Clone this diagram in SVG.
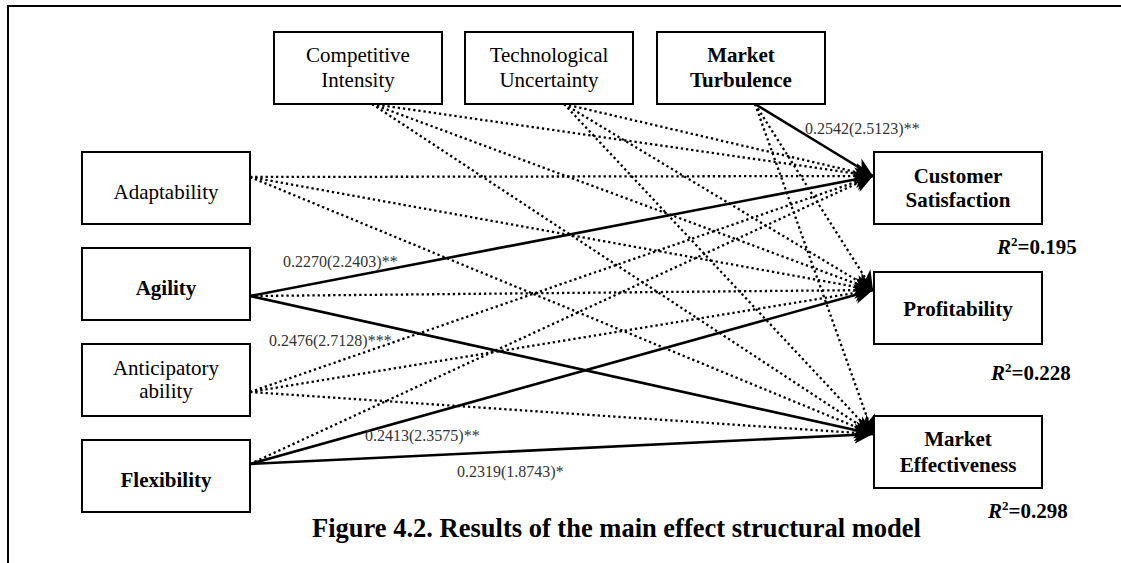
<svg xmlns="http://www.w3.org/2000/svg" width="1121" height="563" viewBox="0 0 1121 563">
<style>
  text { font-family: "Liberation Serif", "Times New Roman", serif; fill: #000; }
  .box { fill: #fff; stroke: #000; stroke-width: 2; }
  .nt { font-size: 21px; text-anchor: middle; }
  .b { font-weight: bold; }
  .lbl { font-size: 16px; fill: #333; }
  .r2 { font-size: 21px; font-weight: bold; }
  .solid { stroke: #000; stroke-width: 2.6; fill: none; marker-end: url(#ah); }
  .dot { stroke: #000; stroke-width: 2.3; fill: none; stroke-dasharray: 2.3 2.9; marker-end: url(#ah); }
  .frame { stroke: #000; stroke-width: 2; fill: none; }
</style>
<defs>
  <marker id="ah" markerUnits="userSpaceOnUse" markerWidth="20" markerHeight="20" refX="17" refY="9" orient="auto" viewBox="0 0 18 18">
    <path d="M0,1 L17,9 L0,17 L5,9 Z" fill="#000"/>
  </marker>
</defs>
<rect width="1121" height="563" fill="#fff"/>
<path class="frame" d="M8,563 L8,6 L1121,6"/>

<g id="connectors">
  <!-- dotted -->
  <line class="dot" x1="250" y1="177" x2="873" y2="176"/>
  <line class="dot" x1="250" y1="177" x2="873" y2="290"/>
  <line class="dot" x1="250" y1="177" x2="873" y2="434"/>
  <line class="dot" x1="250" y1="296" x2="873" y2="290"/>
  <line class="dot" x1="250" y1="392" x2="873" y2="176"/>
  <line class="dot" x1="250" y1="392" x2="873" y2="290"/>
  <line class="dot" x1="250" y1="392" x2="873" y2="434"/>
  <line class="dot" x1="250" y1="464" x2="873" y2="176"/>
  <line class="dot" x1="372" y1="104" x2="873" y2="176"/>
  <line class="dot" x1="372" y1="104" x2="873" y2="290"/>
  <line class="dot" x1="372" y1="104" x2="873" y2="434"/>
  <line class="dot" x1="564" y1="104" x2="873" y2="176"/>
  <line class="dot" x1="564" y1="104" x2="873" y2="290"/>
  <line class="dot" x1="564" y1="104" x2="873" y2="434"/>
  <line class="dot" x1="755" y1="104" x2="873" y2="290"/>
  <line class="dot" x1="755" y1="104" x2="873" y2="434"/>
  <!-- solid -->
  <line class="solid" x1="755" y1="104" x2="873" y2="176"/>
  <line class="solid" x1="250" y1="296" x2="873" y2="176"/>
  <line class="solid" x1="250" y1="296" x2="873" y2="434"/>
  <line class="solid" x1="250" y1="464" x2="873" y2="290"/>
  <line class="solid" x1="250" y1="464" x2="873" y2="434"/>
  <!-- labels -->
  <text class="lbl" x="805" y="134">0.2542(2.5123)**</text>
  <text class="lbl" x="283" y="267">0.2270(2.2403)**</text>
  <text class="lbl" x="269" y="346">0.2476(2.7128)***</text>
  <text class="lbl" x="365" y="441">0.2413(2.3575)**</text>
  <text class="lbl" x="457" y="477">0.2319(1.8743)*</text>
</g>

<g id="competitive-intensity">
  <rect class="box" x="274" y="32" width="168" height="72"/>
  <text class="nt" x="358" y="62">Competitive</text>
  <text class="nt" x="358" y="87">Intensity</text>
</g>
<g id="technological-uncertainty">
  <rect class="box" x="465" y="32" width="168" height="72"/>
  <text class="nt" x="549" y="62">Technological</text>
  <text class="nt" x="549" y="87">Uncertainty</text>
</g>
<g id="market-turbulence">
  <rect class="box" x="657" y="32" width="168" height="72"/>
  <text class="nt b" x="741" y="62">Market</text>
  <text class="nt b" x="741" y="87">Turbulence</text>
</g>

<g id="adaptability">
  <rect class="box" x="82" y="152" width="168" height="72"/>
  <text class="nt" x="166" y="199">Adaptability</text>
</g>
<g id="agility">
  <rect class="box" x="82" y="248" width="168" height="72"/>
  <text class="nt b" x="166" y="295">Agility</text>
</g>
<g id="anticipatory-ability">
  <rect class="box" x="82" y="344" width="168" height="72"/>
  <text class="nt" x="166" y="375">Anticipatory</text>
  <text class="nt" x="166" y="398">ability</text>
</g>
<g id="flexibility">
  <rect class="box" x="82" y="440" width="168" height="72"/>
  <text class="nt b" x="166" y="487">Flexibility</text>
</g>

<g id="customer-satisfaction">
  <rect class="box" x="874" y="152" width="168" height="72"/>
  <text class="nt b" x="958" y="183">Customer</text>
  <text class="nt b" x="958" y="207">Satisfaction</text>
  <text class="r2" x="997" y="254"><tspan font-style="italic">R</tspan><tspan font-size="13" dy="-8">2</tspan><tspan dy="8">=0.195</tspan></text>
</g>
<g id="profitability">
  <rect class="box" x="874" y="272" width="168" height="72"/>
  <text class="nt b" x="958" y="316">Profitability</text>
  <text class="r2" x="991" y="380"><tspan font-style="italic">R</tspan><tspan font-size="13" dy="-8">2</tspan><tspan dy="8">=0.228</tspan></text>
</g>
<g id="market-effectiveness">
  <rect class="box" x="874" y="416" width="168" height="72"/>
  <text class="nt b" x="958" y="446">Market</text>
  <text class="nt b" x="958" y="472">Effectiveness</text>
  <text class="r2" x="988" y="518"><tspan font-style="italic">R</tspan><tspan font-size="13" dy="-8">2</tspan><tspan dy="8">=0.298</tspan></text>
</g>

<text x="312" y="537" font-size="26.5" font-weight="bold">Figure 4.2. Results of the main effect structural model</text>
</svg>
